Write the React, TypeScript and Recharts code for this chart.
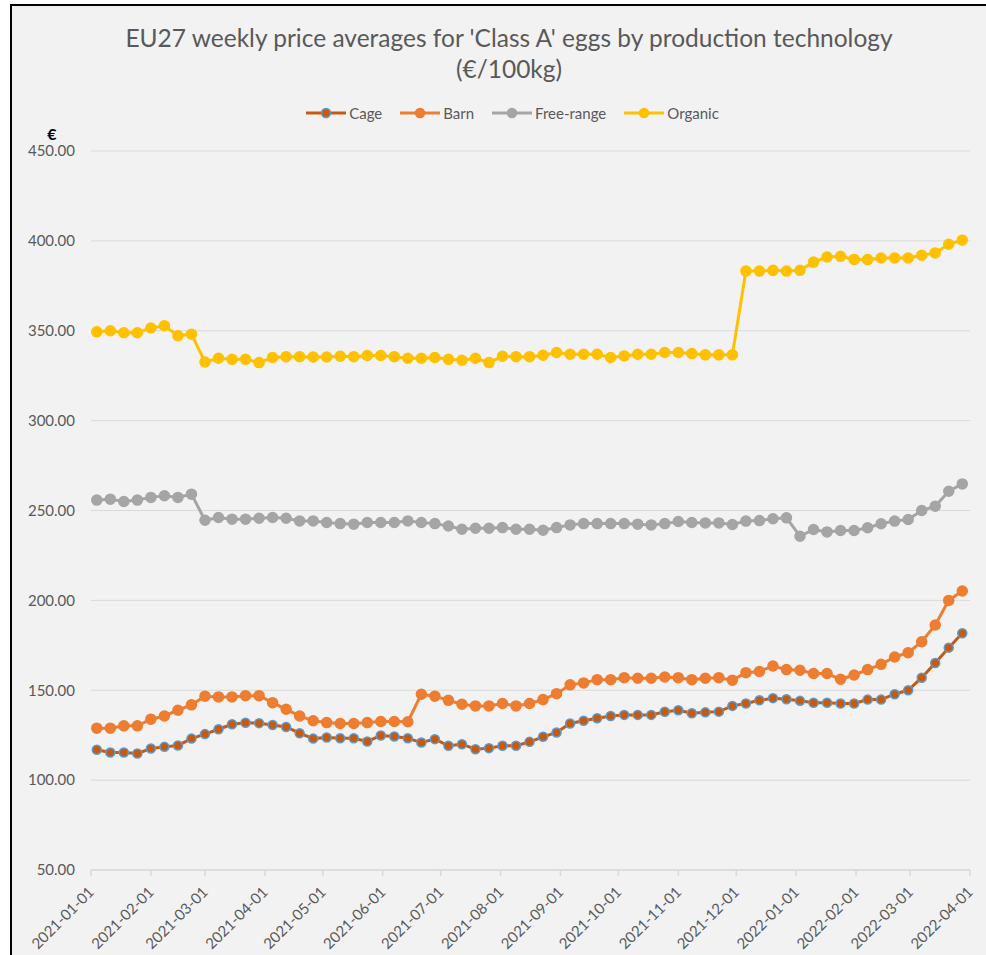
import React from 'react';
import { LineChart, Line, XAxis, YAxis, CartesianGrid, Legend } from 'recharts';

const FONT = 'Lato, "Open Sans", sans-serif';
const TEXT = '#595959';
const GRID = '#d9d9d9';

// week starting dates (Monday)
const weekDates = [
  '2021-01-04', '2021-01-11', '2021-01-18', '2021-01-25', '2021-02-01', '2021-02-08', '2021-02-15', '2021-02-22',
  '2021-03-01', '2021-03-08', '2021-03-15', '2021-03-22', '2021-03-29', '2021-04-05', '2021-04-12', '2021-04-19',
  '2021-04-26', '2021-05-03', '2021-05-10', '2021-05-17', '2021-05-24', '2021-05-31', '2021-06-07', '2021-06-14',
  '2021-06-21', '2021-06-28', '2021-07-05', '2021-07-12', '2021-07-19', '2021-07-26', '2021-08-02', '2021-08-09',
  '2021-08-16', '2021-08-23', '2021-08-30', '2021-09-06', '2021-09-13', '2021-09-20', '2021-09-27', '2021-10-04',
  '2021-10-11', '2021-10-18', '2021-10-25', '2021-11-01', '2021-11-08', '2021-11-15', '2021-11-22', '2021-11-29',
  '2021-12-06', '2021-12-13', '2021-12-20', '2021-12-27', '2022-01-03', '2022-01-10', '2022-01-17', '2022-01-24',
  '2022-01-31', '2022-02-07', '2022-02-14', '2022-02-21', '2022-02-28', '2022-03-07', '2022-03-14', '2022-03-21',
  '2022-03-28',
];

const cage = [
  116.9, 115.4, 115.4, 114.8, 117.6, 118.5, 119.3, 123.1, 125.6, 128.3,
  131.1, 131.9, 131.7, 130.7, 129.6, 126.1, 123.1, 123.7, 123.3, 123.3,
  121.5, 124.8, 124.3, 123.3, 120.9, 122.8, 119.1, 120.0, 117.2, 117.8,
  119.1, 119.1, 121.3, 124.1, 126.5, 131.5, 133.0, 134.4, 135.7, 136.3,
  136.3, 136.3, 138.0, 138.9, 137.2, 137.7, 138.1, 141.3, 142.6, 144.4,
  145.6, 145.0, 144.1, 143.0, 143.0, 142.6, 142.6, 144.8, 144.8, 147.8,
  150.0, 157.0, 165.2, 173.7, 181.7,
];

const barn = [
  128.9, 128.9, 130.2, 130.2, 133.9, 135.7, 138.9, 141.9, 146.7, 146.3,
  146.3, 147.0, 147.0, 143.1, 139.4, 135.7, 133.0, 132.0, 131.5, 131.5,
  132.0, 132.6, 132.6, 132.5, 147.8, 146.7, 144.4, 142.2, 141.3, 141.3,
  142.6, 141.3, 142.6, 144.8, 148.1, 153.0, 154.1, 155.9, 155.9, 157.0,
  156.7, 156.7, 157.4, 157.0, 155.9, 156.7, 157.0, 155.6, 159.8, 160.4,
  163.5, 161.5, 161.1, 159.3, 159.3, 156.1, 158.5, 161.5, 164.4, 168.5,
  170.9, 177.0, 186.3, 200.0, 205.2,
];

const freeRange = [
  255.8, 256.3, 255.0, 255.8, 257.3, 258.2, 257.3, 259.1, 244.6, 246.1,
  245.2, 245.2, 245.7, 246.1, 245.7, 244.2, 244.2, 243.3, 242.7, 242.4,
  243.3, 243.3, 243.3, 244.2, 243.3, 242.7, 241.4, 239.6, 240.1, 240.1,
  240.5, 239.6, 239.6, 239.0, 240.5, 242.0, 242.7, 242.7, 242.7, 242.7,
  242.4, 242.0, 242.7, 243.9, 243.3, 243.1, 243.1, 242.2, 244.1, 244.4,
  245.4, 245.9, 235.7, 239.4, 238.1, 238.9, 238.9, 240.4, 242.6, 244.1,
  245.0, 250.0, 252.4, 260.7, 264.8,
];

const organic = [
  349.4, 350.0, 348.9, 348.9, 351.5, 352.8, 347.2, 348.1, 332.6, 334.7,
  334.1, 334.1, 332.3, 335.1, 335.6, 335.6, 335.4, 335.4, 335.8, 335.6,
  336.2, 336.2, 335.6, 334.7, 334.7, 335.1, 334.1, 333.6, 334.7, 332.3,
  335.8, 335.6, 335.6, 336.4, 337.9, 336.9, 336.9, 336.9, 335.1, 336.0,
  336.9, 336.9, 337.9, 337.9, 337.3, 336.6, 336.6, 336.6, 383.2, 383.2,
  383.6, 383.2, 383.6, 388.2, 391.0, 391.4, 389.7, 389.6, 390.5, 390.5,
  390.5, 392.0, 393.3, 398.1, 400.4,
];

const monthTicks = [
  '2021-01-01', '2021-02-01', '2021-03-01', '2021-04-01', '2021-05-01', '2021-06-01', '2021-07-01', '2021-08-01',
  '2021-09-01', '2021-10-01', '2021-11-01', '2021-12-01', '2022-01-01', '2022-02-01', '2022-03-01', '2022-04-01',
];

const yTicks = [50, 100, 150, 200, 250, 300, 350, 400, 450];

const toTime = (s: string) => {
  const [y, m, d] = s.split('-').map(Number);
  return Date.UTC(y, m - 1, d);
};
const fmtDate = (t: number) => new Date(t).toISOString().slice(0, 10);

const data = weekDates.map((d, i) => ({
  t: toTime(d),
  cage: cage[i],
  barn: barn[i],
  freeRange: freeRange[i],
  organic: organic[i],
}));

const series = [
  { key: 'cage', name: 'Cage', color: '#c55a11', dotStroke: '#5b9bd5' },
  { key: 'barn', name: 'Barn', color: '#ed7d31', dotStroke: '#ed7d31' },
  { key: 'freeRange', name: 'Free-range', color: '#a5a5a5', dotStroke: '#a5a5a5' },
  { key: 'organic', name: 'Organic', color: '#ffc000', dotStroke: '#ffc000' },
];

const XTick = (props: any) => {
  const { x, y, payload } = props;
  const ax = x + 4;
  const ay = y + 17;
  return (
    <text x={ax} y={ay} textAnchor="end" fill={TEXT} fontSize={15} fontFamily={FONT} transform={`rotate(-45, ${ax}, ${ay})`}>
      {fmtDate(payload.value)}
    </text>
  );
};

const renderLegend = () => (
  <div style={{ display: 'flex', justifyContent: 'center', gap: 18, fontFamily: FONT, fontSize: 15, color: TEXT }}>
    {series.map(s => (
      <div key={s.key} style={{ display: 'flex', alignItems: 'center' }}>
        <svg width={40} height={14}>
          <line x1={0} y1={7} x2={40} y2={7} stroke={s.color} strokeWidth={3} />
          <circle cx={20} cy={7} r={4.5} fill={s.color} stroke={s.dotStroke} strokeWidth={1.5} />
        </svg>
        <span style={{ marginLeft: 3 }}>{s.name}</span>
      </div>
    ))}
  </div>
);

const EuroLabel = () => (
  <text x={52} y={140} textAnchor="middle" fill="#000" fontSize={16} fontWeight="bold" fontFamily={FONT}>€</text>
);

export default function App() {
  return (
    <div style={{ position: 'fixed', left: 0, top: 0, width: 986, height: 955, overflow: 'hidden', background: '#fff' }}>
      <div style={{ position: 'absolute', left: 10, top: 4, width: 1010, height: 1000, border: '2px solid #000', background: '#f2f2f2' }} />
      <div
        style={{
          position: 'absolute', left: 0, top: 22, width: 1018, textAlign: 'center',
          fontFamily: FONT, fontSize: 24.5, lineHeight: '31px', color: TEXT,
        }}
      >
        EU27 weekly price averages for 'Class A' eggs by production technology
        <br />
        (€/100kg)
      </div>
      <div style={{ position: 'absolute', left: 0, top: 0 }}>
        <LineChart width={986} height={955} data={data} margin={{ top: 151, right: 16, bottom: 5, left: 0 }}>
          <CartesianGrid vertical={false} stroke={GRID} strokeWidth={1} />
          <XAxis
            dataKey="t"
            type="number"
            domain={[toTime(monthTicks[0]), toTime(monthTicks[monthTicks.length - 1])]}
            ticks={monthTicks.map(toTime)}
            height={80}
            axisLine={{ stroke: GRID, strokeWidth: 1.5 }}
            tickLine={{ stroke: GRID, strokeWidth: 1.5 }}
            tickSize={6}
            tickMargin={0}
            tick={<XTick />}
            interval={0}
          />
          <YAxis
            type="number"
            domain={[50, 450]}
            ticks={yTicks}
            width={91}
            axisLine={false}
            tickLine={false}
            tickSize={0}
            tickMargin={16}
            tickFormatter={(v: number) => v.toFixed(2)}
            tick={{ fill: TEXT, fontSize: 15, fontFamily: FONT }}
            label={<EuroLabel />}
          />
          <Legend
            layout="horizontal"
            verticalAlign="middle"
            align="center"
            content={renderLegend}
            wrapperStyle={{ top: 104, left: 0, width: 1025, height: 20 }}
          />
          {series.map(s => (
            <Line
              key={s.key}
              dataKey={s.key}
              name={s.name}
              type="linear"
              stroke={s.color}
              strokeWidth={3}
              dot={{ r: s.key === 'cage' ? 4.5 : 5, fill: s.color, stroke: s.dotStroke, strokeWidth: 1.5 }}
              activeDot={false}
              isAnimationActive={false}
            />
          ))}
        </LineChart>
      </div>
    </div>
  );
}
